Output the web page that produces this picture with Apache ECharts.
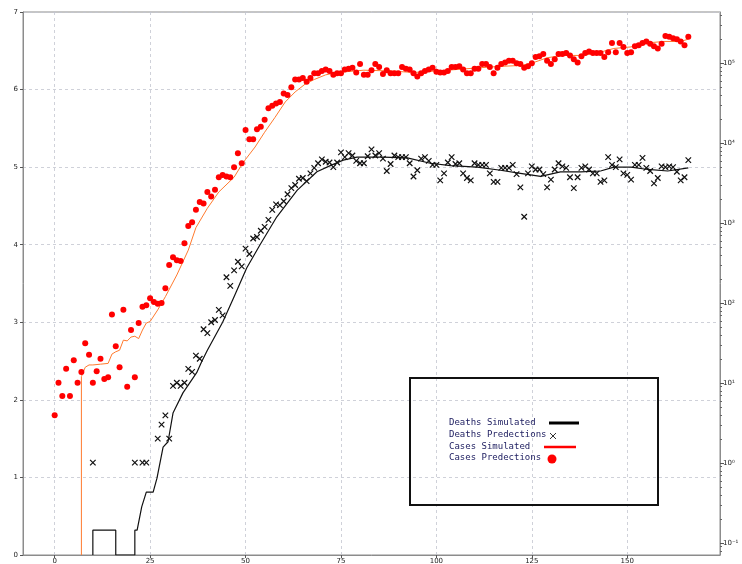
<!DOCTYPE html>
<html>
<head>
<meta charset="utf-8">
<script src="https://cdn.jsdelivr.net/npm/echarts@6/dist/echarts.min.js"></script>
<style>
  html, body { margin: 0; padding: 0; background: #fff; }
  #main { width: 742px; height: 564px; }
</style>
</head>
<body>
<div id="main"></div>
<script>
// cases predictions, one value per day (day = index)
var casesPred = [
  1.80, 2.22, 2.05, 2.40, 2.05, 2.51, 2.22, 2.36, 2.73, 2.58,
  2.22, 2.37, 2.53, 2.27, 2.29, 3.10, 2.69, 2.42, 3.16, 2.17,
  2.90, 2.29, 2.99, 3.20, 3.22, 3.31, 3.26, 3.24, 3.25, 3.44,
  3.74, 3.84, 3.80, 3.79, 4.02, 4.24, 4.29, 4.45, 4.55, 4.53,
  4.68, 4.62, 4.71, 4.87, 4.90, 4.88, 4.87, 5.00, 5.18, 5.05,
  5.48, 5.36, 5.36, 5.49, 5.52, 5.61, 5.76, 5.79, 5.82, 5.84,
  5.95, 5.93, 6.03, 6.13, 6.13, 6.15, 6.10, 6.15, 6.21, 6.21,
  6.24, 6.26, 6.24, 6.19, 6.21, 6.21, 6.26, 6.27, 6.28, 6.22,
  6.33, 6.19, 6.19, 6.25, 6.33, 6.29, 6.20, 6.25, 6.21, 6.21,
  6.21, 6.29, 6.27, 6.26, 6.21, 6.17, 6.21, 6.24, 6.26, 6.28,
  6.23, 6.22, 6.22, 6.24, 6.29, 6.29, 6.30, 6.26, 6.21, 6.21,
  6.27, 6.27, 6.33, 6.33, 6.29, 6.21, 6.28, 6.33, 6.35, 6.37,
  6.37, 6.34, 6.33, 6.28, 6.30, 6.34, 6.42, 6.43, 6.46, 6.37,
  6.33, 6.39, 6.46, 6.46, 6.47, 6.44, 6.39, 6.35, 6.43, 6.47,
  6.49, 6.47, 6.47, 6.47, 6.42, 6.48, 6.60, 6.48, 6.60, 6.55,
  6.47, 6.48, 6.56, 6.57, 6.60, 6.62, 6.59, 6.56, 6.53, 6.59,
  6.69, 6.68, 6.66, 6.65, 6.62, 6.57, 6.68
];

// deaths predictions, one value per day, null = no mark
var deathsPred = [
  null, null, null, null, null, null, null, null, null, null,
  1.19, null, null, null, null, null, null, null, null, null,
  null, 1.19, null, 1.19, 1.19, null, null, 1.50, 1.68, 1.80,
  1.50, 2.18, 2.22, 2.18, 2.22, 2.40, 2.36, 2.57, 2.53, 2.91,
  2.86, 3.00, 3.03, 3.16, 3.09, 3.58, 3.47, 3.67, 3.78, 3.72,
  3.95, 3.88, 4.08, 4.10, 4.18, 4.23, 4.32, 4.45, 4.52, 4.51,
  4.56, 4.65, 4.73, 4.77, 4.85, 4.86, 4.82, 4.92, 4.99, 5.05,
  5.10, 5.07, 5.06, 5.00, 5.06, 5.19, 5.13, 5.18, 5.15, 5.08,
  5.05, 5.05, 5.14, 5.23, 5.15, 5.18, 5.11, 4.95, 5.04, 5.15,
  5.13, 5.13, 5.13, 5.05, 4.88, 4.96, 5.11, 5.13, 5.08, 5.03,
  5.03, 4.83, 4.92, 5.06, 5.13, 5.04, 5.05, 4.92, 4.86, 4.83,
  5.05, 5.03, 5.03, 5.03, 4.92, 4.81, 4.81, 4.99, 4.99, 4.99,
  5.03, 4.91, 4.74, 4.36, 4.92, 5.01, 4.97, 4.97, 4.91, 4.74,
  4.84, 4.97, 5.05, 5.01, 4.99, 4.87, 4.73, 4.87, 4.99, 5.01,
  4.97, 4.92, 4.92, 4.81, 4.83, 5.13, 5.03, 5.00, 5.10, 4.92,
  4.90, 4.84, 5.03, 5.03, 5.12, 4.99, 4.95, 4.79, 4.86, 5.01,
  5.00, 5.01, 5.00, 4.94, 4.83, 4.87, 5.09
];

// simulated curves as [day, value]
var casesSim = [
  [7, 0], [7, 2.30], [8, 2.42], [9, 2.45], [10, 2.45], [12, 2.46], [14, 2.47],
  [15, 2.59], [16, 2.62], [17, 2.64], [18, 2.77], [19, 2.76], [20, 2.81],
  [21, 2.82], [22, 2.79], [23, 2.90], [24, 2.99], [25, 3.01], [27, 3.16],
  [29, 3.33], [32, 3.61], [35, 3.93], [37, 4.22], [40, 4.47], [43, 4.68],
  [47, 4.87], [48.5, 4.99], [50, 5.10], [52.5, 5.26], [55, 5.45], [57.7, 5.64],
  [60.4, 5.84], [63, 5.97], [65.6, 6.07], [68, 6.13], [71, 6.19], [74, 6.22],
  [81, 6.25], [88, 6.24], [94, 6.22], [103, 6.25], [111, 6.28], [117, 6.30],
  [122, 6.31], [125, 6.34], [129, 6.41], [133, 6.44], [138, 6.44], [142, 6.47],
  [146.5, 6.53], [151, 6.55], [155, 6.60], [159.6, 6.62], [164, 6.62], [166, 6.65]
];
var deathsSim = [
  [10, 0], [10, 0.32], [16, 0.32], [16, 0], [21, 0], [21, 0.32], [21.6, 0.32],
  [22.8, 0.62], [24, 0.81], [25.8, 0.81], [26.8, 0.99], [28.4, 1.39], [29.7, 1.46],
  [31, 1.83], [33.6, 2.09], [37.2, 2.35], [38.5, 2.49], [40, 2.64], [44, 3.00],
  [47, 3.33], [50.3, 3.70], [53.8, 4.00], [58.2, 4.36], [63.5, 4.70], [68.7, 4.94],
  [72.2, 5.02], [75.6, 5.09], [79.2, 5.13], [86, 5.13], [92.4, 5.12], [98.4, 5.05],
  [103.7, 5.02], [110.7, 5.00], [116.8, 4.96], [122, 4.92], [127.3, 4.88],
  [132.5, 4.94], [137.8, 4.94], [143, 4.95], [146.5, 5.00], [151, 5.00],
  [155.4, 4.97], [160.6, 4.95], [166, 4.99]
];

var xTicks = [0, 25, 50, 75, 100, 125, 150];
var logTicks = [-1, 0, 1, 2, 3, 4, 5];

// log minor ticks (2..9 x 10^n) for the right axis
var minorTicks = [];
for (var e = -2; e <= 5; e++) {
  for (var k = 2; k <= 9; k++) {
    var v = e + Math.log10(k);
    if (v > -1.15 && v < 5.64) minorTicks.push(v);
  }
}

var sup = { '-': '\u207b', '0': '\u2070', '1': '\u00b9', '2': '\u00b2', '3': '\u00b3', '4': '\u2074', '5': '\u2075' };

var gridLine = { show: true, lineStyle: { color: '#c3c6d0', type: [3, 3], width: 0.8 } };
var axisGray = '#8c8c8c';

var myChart = echarts.init(document.getElementById('main'));

var option = {
  animation: false,
  backgroundColor: '#fff',
  grid: {
    left: 23, right: 22, top: 12, bottom: 9,
    show: true, borderColor: axisGray, borderWidth: 1,
    outerBoundsMode: 'none'
  },
  xAxis: {
    type: 'value', min: -8.3, max: 174.3,
    axisLine: { show: true, onZero: false, lineStyle: { color: axisGray } },
    axisTick: { show: true, customValues: xTicks, length: 3, lineStyle: { color: '#555' } },
    axisLabel: { customValues: xTicks, fontSize: 7, color: '#222', margin: 3, fontFamily: 'DejaVu Sans' },
    splitLine: gridLine
  },
  yAxis: [
    {
      type: 'value', min: 0, max: 7, interval: 1, position: 'left',
      axisLine: { show: true, onZero: false, lineStyle: { color: axisGray } },
      axisTick: { show: true, length: 3, lineStyle: { color: '#555' } },
      axisLabel: { fontSize: 7, color: '#222', margin: 5, fontFamily: 'DejaVu Sans' },
      splitLine: gridLine
    },
    {
      // log scale shown as exponents
      type: 'value', min: -1.15, max: 5.64, position: 'right',
      axisLine: { show: true, onZero: false, lineStyle: { color: axisGray } },
      axisTick: { show: true, customValues: logTicks, length: 4, lineStyle: { color: '#555' } },
      axisLabel: {
        customValues: logTicks, fontSize: 7, color: '#222', margin: 3, fontFamily: 'DejaVu Sans',
        formatter: function (val) {
          return '10' + String(val).split('').map(function (c) { return sup[c]; }).join('');
        }
      },
      splitLine: { show: false }
    },
    {
      type: 'value', min: -1.15, max: 5.64, position: 'right',
      axisLine: { show: false, onZero: false },
      axisTick: { show: true, customValues: minorTicks, length: 2, lineStyle: { color: '#666' } },
      axisLabel: { show: false },
      splitLine: { show: false }
    }
  ],
  series: [
    {
      name: 'Deaths Simulated', type: 'line', data: deathsSim,
      showSymbol: false, symbol: 'none',
      lineStyle: { color: '#111', width: 1.2 }, z: 3
    },
    {
      name: 'Deaths Predections', type: 'scatter',
      data: deathsPred.map(function (d, i) { return [i, d]; }).filter(function (p) { return p[1] !== null; }),
      symbol: 'path://M0,0L10,10M10,0L0,10', symbolSize: 5.5,
      itemStyle: { color: 'none', borderColor: '#111', borderWidth: 1.2, opacity: 1 }, z: 4
    },
    {
      name: 'Cases Simulated', type: 'line', data: casesSim,
      showSymbol: false, symbol: 'none',
      lineStyle: { color: '#ff7a2e', width: 1 }, z: 3
    },
    {
      name: 'Cases Predections', type: 'scatter',
      data: casesPred.map(function (d, i) { return [i, d]; }),
      symbol: 'circle', symbolSize: 6,
      itemStyle: { color: '#ff0000', opacity: 1 }, z: 4
    }
  ],
  graphic: [
    { type: 'rect', shape: { x: 410, y: 378, width: 248, height: 127 },
      style: { fill: 'none', stroke: '#111', lineWidth: 2 }, z: 10 },
    { type: 'text', x: 449, y: 423, z: 10,
      style: { text: 'Deaths Simulated', font: '9px "DejaVu Sans Mono"', fill: '#1b1b5e', verticalAlign: 'middle' } },
    { type: 'text', x: 449, y: 435, z: 10,
      style: { text: 'Deaths Predections', font: '9px "DejaVu Sans Mono"', fill: '#1b1b5e', verticalAlign: 'middle' } },
    { type: 'text', x: 449, y: 447, z: 10,
      style: { text: 'Cases Simulated', font: '9px "DejaVu Sans Mono"', fill: '#1b1b5e', verticalAlign: 'middle' } },
    { type: 'text', x: 449, y: 458, z: 10,
      style: { text: 'Cases Predections', font: '9px "DejaVu Sans Mono"', fill: '#1b1b5e', verticalAlign: 'middle' } },
    { type: 'line', shape: { x1: 549, y1: 423, x2: 579, y2: 423 }, style: { stroke: '#000', lineWidth: 3 }, z: 10 },
    { type: 'line', shape: { x1: 550, y1: 433, x2: 556, y2: 439 }, style: { stroke: '#333', lineWidth: 1 }, z: 10 },
    { type: 'line', shape: { x1: 556, y1: 433, x2: 550, y2: 439 }, style: { stroke: '#333', lineWidth: 1 }, z: 10 },
    { type: 'line', shape: { x1: 544, y1: 447, x2: 576, y2: 447 }, style: { stroke: '#ff0000', lineWidth: 2.5 }, z: 10 },
    { type: 'circle', shape: { cx: 552, cy: 459, r: 4.5 }, style: { fill: '#ff0000' }, z: 10 }
  ]
};

myChart.setOption(option);
</script>
</body>
</html>
